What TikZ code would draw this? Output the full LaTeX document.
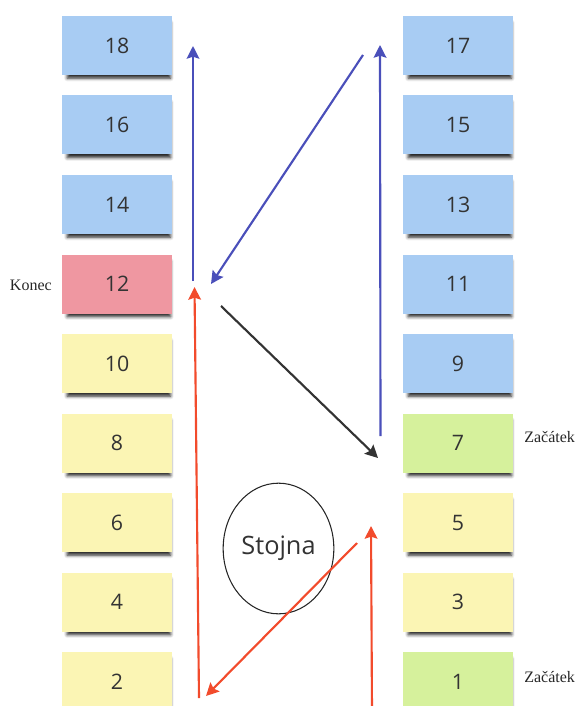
\documentclass[tikz,border=0pt]{standalone}
\usepackage{fontspec}
\setmainfont{Liberation Serif}
\newfontfamily\notefont{Open Sans}
\usetikzlibrary{arrows.meta,shadows.blur,shapes.geometric}

\definecolor{noteblue}{HTML}{A8CCF3}
\definecolor{notepink}{HTML}{EF97A1}
\definecolor{noteyellow}{HTML}{FBF5B4}
\definecolor{notegreen}{HTML}{D6F19C}
\definecolor{pathblue}{HTML}{4A4FBA}
\definecolor{pathred}{HTML}{F24B2C}
\definecolor{pathdark}{HTML}{333333}
\definecolor{inkgray}{HTML}{333333}

\tikzset{
  note/.style={rectangle, minimum width=82.5pt, minimum height=44.25pt, inner sep=0pt,
    font=\notefont\fontsize{16}{19}\selectfont, text=inkgray,
    blur shadow={shadow xshift=1.5pt, shadow yshift=-4pt, shadow blur radius=2.5pt,
      shadow opacity=85, shadow scale=0.94}},
  blue note/.style={note, fill=noteblue},
  pink note/.style={note, fill=notepink},
  yellow note/.style={note, fill=noteyellow},
  green note/.style={note, fill=notegreen},
  side label/.style={font=\fontsize{12}{14}\selectfont, text=black!85, inner sep=0pt},
  route/.style={line width=1.6pt, -{Stealth[length=9.5pt,width=9.5pt,inset=1.5pt]}},
}

\begin{document}
\begin{tikzpicture}[x=0.75pt, y=-0.75pt]
  \useasboundingbox (0,0) rectangle (575,706);
  \clip (0,0) rectangle (575,706);

  % left column of notes (even numbers)
  \node[blue note]   (n18) at (117, 45.5)  {18};
  \node[blue note]   (n16) at (117, 125)   {16};
  \node[blue note]   (n14) at (117, 204.5) {14};
  \node[pink note]   (n12) at (117, 284)   {12};
  \node[yellow note] (n10) at (117, 363.5) {10};
  \node[yellow note] (n8)  at (117, 443)   {8};
  \node[yellow note] (n6)  at (117, 522.5) {6};
  \node[yellow note] (n4)  at (117, 602)   {4};
  \node[yellow note] (n2)  at (117, 681.5) {2};

  % right column of notes (odd numbers)
  \node[blue note]   (n17) at (458, 45.5)  {17};
  \node[blue note]   (n15) at (458, 125)   {15};
  \node[blue note]   (n13) at (458, 204.5) {13};
  \node[blue note]   (n11) at (458, 284)   {11};
  \node[blue note]   (n9)  at (458, 363.5) {9};
  \node[green note]  (n7)  at (458, 443)   {7};
  \node[yellow note] (n5)  at (458, 522.5) {5};
  \node[yellow note] (n3)  at (458, 602)   {3};
  \node[green note]  (n1)  at (458, 681.5) {1};

  % side labels
  \node[side label, anchor=east] (konec)   at (52, 285)  {Konec};
  \node[side label, anchor=west] (start7)  at (524, 437) {Začátek};
  \node[side label, anchor=west] (start1)  at (524, 677) {Začátek};

  % stand in the middle
  \node[draw=black!85, line width=0.8pt, ellipse, minimum width=83pt, minimum height=98pt,
        inner sep=0pt, font=\notefont\fontsize{19}{23}\selectfont, text=inkgray]
        (stojna) at (278.5, 548.5) {Stojna};

  % route end points
  \coordinate (r1a) at (372, 712);
  \coordinate (r1b) at (371, 526);
  \coordinate (r2a) at (357, 543);
  \coordinate (r2b) at (206, 696);
  \coordinate (r3a) at (199, 698);
  \coordinate (r3b) at (194.5, 287);
  \coordinate (k1a) at (221, 306);
  \coordinate (k1b) at (378, 458);
  \coordinate (b1a) at (380.5, 436);
  \coordinate (b1b) at (380, 45);
  \coordinate (b2a) at (363, 55);
  \coordinate (b2b) at (211, 284);
  \coordinate (b3a) at (193, 281);
  \coordinate (b3b) at (193, 46);

  % red part of the route
  \draw[route, pathred] (r1a) -- (r1b);
  \draw[route, pathred] (r2a) -- (r2b);
  \draw[route, pathred] (r3a) -- (r3b);
  % crossing over
  \draw[route, pathdark] (k1a) -- (k1b);
  % blue part of the route
  \draw[route, pathblue] (b1a) -- (b1b);
  \draw[route, pathblue] (b2a) -- (b2b);
  \draw[route, pathblue] (b3a) -- (b3b);
\end{tikzpicture}
\end{document}
